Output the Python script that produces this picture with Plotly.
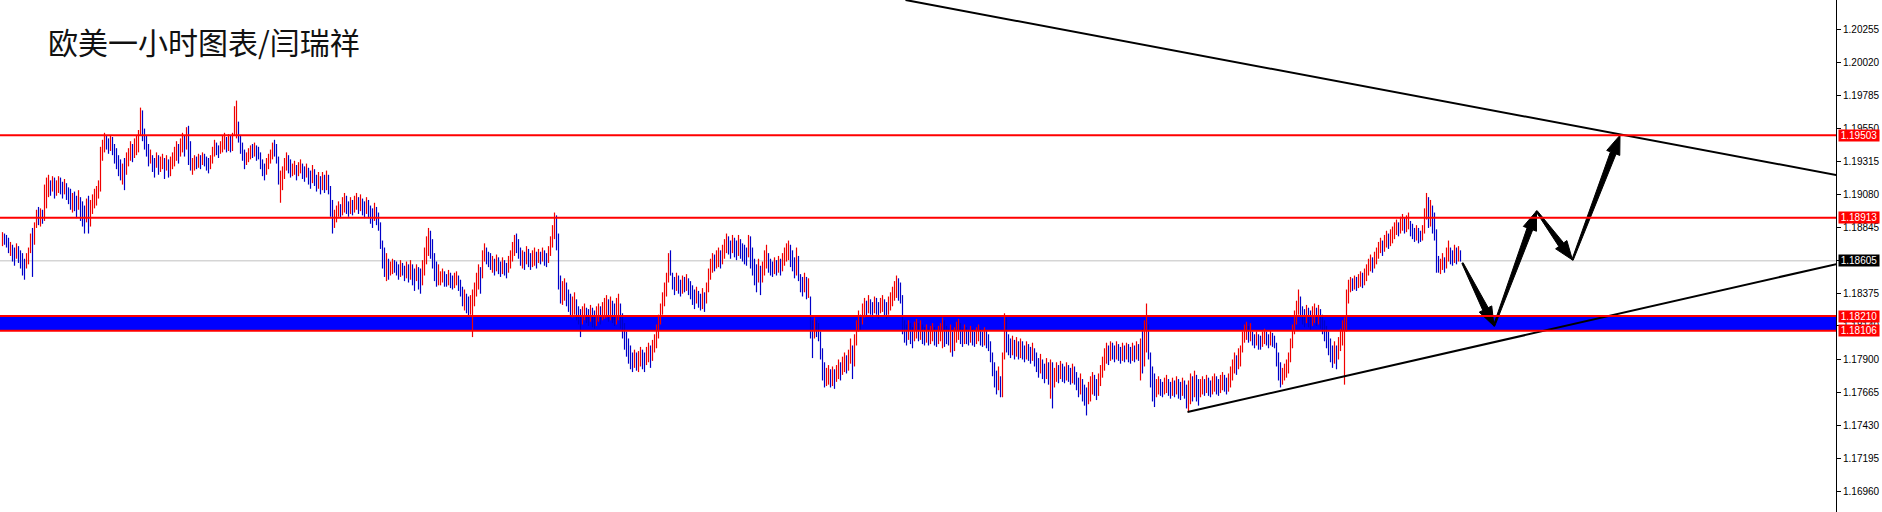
import math
import plotly.graph_objects as go

# ---------------- data (EUR/USD 1H bars) ----------------
highs = [
    1.1881, 1.1880, 1.1879, 1.1877, 1.1874, 1.1872, 1.1870, 1.1873, 1.1871, 1.1868,
    1.1866, 1.1862, 1.1866, 1.1870, 1.1880, 1.1884, 1.1888, 1.1897, 1.1899, 1.1898,
    1.1897, 1.1915, 1.1920, 1.1922, 1.1918, 1.1921, 1.1920, 1.1918, 1.1921, 1.1920,
    1.1917, 1.1919, 1.1916, 1.1913, 1.1912, 1.1909, 1.1910, 1.1907, 1.1911, 1.1906,
    1.1903, 1.1900, 1.1905, 1.1907, 1.1904, 1.1908, 1.1912, 1.1914, 1.1918, 1.1942,
    1.1947, 1.1952, 1.1950, 1.1948, 1.1950, 1.1949, 1.1944, 1.1941, 1.1936, 1.1933,
    1.1930, 1.1934, 1.1938, 1.1941, 1.1946, 1.1944, 1.1948, 1.1950, 1.1954, 1.1970,
    1.1968, 1.1955, 1.1950, 1.1944, 1.1940, 1.1936, 1.1934, 1.1938, 1.1936, 1.1935,
    1.1937, 1.1934, 1.1936, 1.1933, 1.1935, 1.1938, 1.1942, 1.1946, 1.1944, 1.1948,
    1.1952, 1.1950, 1.1956, 1.1957, 1.1946, 1.1934, 1.1936, 1.1935, 1.1937, 1.1936,
    1.1938, 1.1937, 1.1935, 1.1934, 1.1936, 1.1942, 1.1947, 1.1945, 1.1943, 1.1946,
    1.1950, 1.1952, 1.1949, 1.1951, 1.1950, 1.1952, 1.1971, 1.1975, 1.1960, 1.1950,
    1.1945, 1.1940, 1.1938, 1.1941, 1.1943, 1.1944, 1.1945, 1.1943, 1.1942, 1.1938,
    1.1933, 1.1930, 1.1934, 1.1937, 1.1940, 1.1945, 1.1947, 1.1944, 1.1935, 1.1925,
    1.1928, 1.1934, 1.1938, 1.1936, 1.1933, 1.1930, 1.1932, 1.1929, 1.1931, 1.1933,
    1.1930, 1.1928, 1.1930, 1.1927, 1.1925, 1.1929, 1.1926, 1.1922, 1.1924, 1.1921,
    1.1924, 1.1922, 1.1925, 1.1922, 1.1914, 1.1904, 1.1897, 1.1900, 1.1903, 1.1901,
    1.1906, 1.1909, 1.1907, 1.1903, 1.1906, 1.1904, 1.1907, 1.1909, 1.1906, 1.1908,
    1.1905, 1.1903, 1.1906, 1.1904, 1.1900, 1.1898, 1.1902, 1.1899, 1.1895, 1.1888,
    1.1875, 1.1870, 1.1866, 1.1862, 1.1860, 1.1862, 1.1861, 1.1860, 1.1858, 1.1861,
    1.1859, 1.1857, 1.1860, 1.1858, 1.1861, 1.1858, 1.1855, 1.1858, 1.1856, 1.1855,
    1.1861, 1.1870, 1.1878, 1.1884, 1.1882, 1.1876, 1.1866, 1.1860, 1.1858, 1.1853,
    1.1855, 1.1853, 1.1851, 1.1854, 1.1852, 1.1850, 1.1852, 1.1853, 1.1850, 1.1847,
    1.1842, 1.1840, 1.1837, 1.1835, 1.1836, 1.1840, 1.1845, 1.1852, 1.1858, 1.1856,
    1.1868, 1.1873, 1.1870, 1.1867, 1.1866, 1.1864, 1.1862, 1.1865, 1.1863, 1.1860,
    1.1863, 1.1861, 1.1859, 1.1864, 1.1868, 1.1874, 1.1879, 1.1880, 1.1876, 1.1870,
    1.1868, 1.1867, 1.1871, 1.1869, 1.1866, 1.1868, 1.1870, 1.1867, 1.1869, 1.1867,
    1.1870, 1.1868, 1.1866, 1.1871, 1.1878, 1.1886, 1.1895, 1.1893, 1.1880, 1.1850,
    1.1846, 1.1848, 1.1845, 1.1840, 1.1837, 1.1835, 1.1838, 1.1833, 1.1828, 1.1826,
    1.1828, 1.1830, 1.1827, 1.1826, 1.1829, 1.1827, 1.1825, 1.1828, 1.1830, 1.1828,
    1.1831, 1.1834, 1.1836, 1.1833, 1.1835, 1.1832, 1.1830, 1.1834, 1.1837, 1.1830,
    1.1823, 1.1816, 1.1810, 1.1805, 1.1800, 1.1795, 1.1797, 1.1795, 1.1796, 1.1799,
    1.1797, 1.1795, 1.1799, 1.1802, 1.1800, 1.1804, 1.1808, 1.1815, 1.1822, 1.1830,
    1.1838, 1.1845, 1.1852, 1.1866, 1.1868, 1.1852, 1.1849, 1.1852, 1.1850, 1.1847,
    1.1850, 1.1849, 1.1851, 1.1848, 1.1846, 1.1843, 1.1840, 1.1842, 1.1839, 1.1837,
    1.1841, 1.1838, 1.1845, 1.1855, 1.1862, 1.1866, 1.1865, 1.1868, 1.1870, 1.1868,
    1.1872, 1.1876, 1.1880, 1.1878, 1.1875, 1.1879, 1.1877, 1.1875, 1.1879, 1.1876,
    1.1873, 1.1872, 1.1870, 1.1879, 1.1878, 1.1870, 1.1862, 1.1858, 1.1862, 1.1857,
    1.1860, 1.1868, 1.1872, 1.1866, 1.1862, 1.1860, 1.1863, 1.1861, 1.1864, 1.1862,
    1.1866, 1.1870, 1.1873, 1.1875, 1.1872, 1.1868, 1.1863, 1.1870, 1.1864, 1.1851,
    1.1849, 1.1852, 1.1849, 1.1848, 1.1835, 1.1818, 1.1820, 1.1818, 1.1816, 1.1810,
    1.1798, 1.1788, 1.1784, 1.1786, 1.1783, 1.1785, 1.1783, 1.1786, 1.1790, 1.1788,
    1.1792, 1.1795, 1.1793, 1.1797, 1.1805, 1.1800, 1.1808, 1.1818, 1.1825, 1.1822,
    1.1830, 1.1834, 1.1832, 1.1836, 1.1833, 1.1831, 1.1835, 1.1834, 1.1831, 1.1834,
    1.1836, 1.1833, 1.1831, 1.1835, 1.1838, 1.1842, 1.1846, 1.1850, 1.1848, 1.1845,
    1.1836, 1.1818, 1.1815, 1.1818, 1.1816, 1.1813, 1.1817, 1.1819, 1.1816, 1.1818,
    1.1815, 1.1813, 1.1815, 1.1812, 1.1814, 1.1816, 1.1813, 1.1811, 1.1814, 1.1816,
    1.1820, 1.1818, 1.1814, 1.1812, 1.1815, 1.1810, 1.1813, 1.1817, 1.1819, 1.1816,
    1.1812, 1.1815, 1.1813, 1.1811, 1.1814, 1.1812, 1.1810, 1.1813, 1.1815, 1.1812,
    1.1810, 1.1813, 1.1811, 1.1808, 1.1803, 1.1795, 1.1788, 1.1782, 1.1785, 1.1778,
    1.1795, 1.1823, 1.1820, 1.1808, 1.1805, 1.1807, 1.1804, 1.1806, 1.1803, 1.1805,
    1.1803, 1.1800, 1.1803, 1.1801, 1.1799, 1.1802, 1.1798, 1.1795, 1.1791, 1.1794,
    1.1790, 1.1787, 1.1791, 1.1788, 1.1790, 1.1788, 1.1784, 1.1788, 1.1786, 1.1789,
    1.1787, 1.1785, 1.1788, 1.1786, 1.1784, 1.1787, 1.1785, 1.1781, 1.1777, 1.1780,
    1.1776, 1.1772, 1.1770, 1.1774, 1.1778, 1.1781, 1.1779, 1.1776, 1.1780, 1.1786,
    1.1792, 1.1798, 1.1802, 1.1800, 1.1803, 1.1802, 1.1800, 1.1803, 1.1801, 1.1799,
    1.1802, 1.1800, 1.1802, 1.1801, 1.1799, 1.1802, 1.1800, 1.1803, 1.1801, 1.1805,
    1.1812, 1.1818, 1.1830, 1.1815, 1.1795, 1.1785, 1.1780, 1.1776, 1.1778, 1.1776,
    1.1774, 1.1777, 1.1779, 1.1776, 1.1774, 1.1777, 1.1775, 1.1778, 1.1776, 1.1774,
    1.1777, 1.1775, 1.1772, 1.1775, 1.1780, 1.1778, 1.1782, 1.1779, 1.1776, 1.1776,
    1.1778, 1.1776, 1.1779, 1.1777, 1.1775, 1.1778, 1.1780, 1.1778, 1.1776, 1.1779,
    1.1781, 1.1779, 1.1777, 1.1780, 1.1785, 1.1790, 1.1795, 1.1793, 1.1798, 1.1800,
    1.1810, 1.1815, 1.1817, 1.1814, 1.1816, 1.1810, 1.1808, 1.1810, 1.1808, 1.1807,
    1.1810, 1.1812, 1.1810, 1.1808, 1.1811, 1.1809, 1.1807, 1.1802, 1.1795, 1.1788,
    1.1784, 1.1787, 1.1790, 1.1795, 1.1805, 1.1815, 1.1825, 1.1832, 1.1840, 1.1835,
    1.1828, 1.1826, 1.1829, 1.1827, 1.1825, 1.1828, 1.1830, 1.1827, 1.1829, 1.1826,
    1.1822, 1.1818, 1.1814, 1.1810, 1.1805, 1.1800, 1.1803, 1.1800, 1.1806, 1.1812,
    1.1818, 1.1820, 1.1840, 1.1847, 1.1849, 1.1848, 1.1850, 1.1849, 1.1851, 1.1853,
    1.1852, 1.1855, 1.1858, 1.1862, 1.1865, 1.1863, 1.1867, 1.1870, 1.1874, 1.1877,
    1.1875, 1.1879, 1.1882, 1.1880, 1.1883, 1.1885, 1.1888, 1.1890, 1.1888, 1.1892,
    1.1894, 1.1891, 1.1893, 1.1895, 1.1889, 1.1887, 1.1884, 1.1886, 1.1884, 1.1882,
    1.1886, 1.1898, 1.1909, 1.1906, 1.1904, 1.1900, 1.1895, 1.1883, 1.1864, 1.1862,
    1.1866, 1.1863, 1.1870, 1.1875, 1.1870, 1.1868, 1.1872, 1.1870, 1.1871, 1.1868,
]

lows = [
    1.1871, 1.1872, 1.1870, 1.1866, 1.1864, 1.1860, 1.1857, 1.1862, 1.1859, 1.1855,
    1.1850, 1.1847, 1.1855, 1.1858, 1.1866, 1.1849, 1.1872, 1.1884, 1.1886, 1.1885,
    1.1887, 1.1889, 1.1898, 1.1906, 1.1907, 1.1910, 1.1905, 1.1907, 1.1909, 1.1908,
    1.1905, 1.1908, 1.1904, 1.1901, 1.1897, 1.1895, 1.1896, 1.1891, 1.1897, 1.1889,
    1.1885, 1.1880, 1.1888, 1.1880, 1.1885, 1.1894, 1.1898, 1.1900, 1.1905, 1.1910,
    1.1932, 1.1938, 1.1940, 1.1937, 1.1939, 1.1936, 1.1930, 1.1926, 1.1921, 1.1918,
    1.1915, 1.1911, 1.1922, 1.1928, 1.1932, 1.1931, 1.1934, 1.1936, 1.1938, 1.1950,
    1.1946, 1.1940, 1.1935, 1.1928, 1.1930, 1.1924, 1.1920, 1.1927, 1.1922, 1.1924,
    1.1926, 1.1919, 1.1925, 1.1920, 1.1921, 1.1926, 1.1928, 1.1932, 1.1930, 1.1935,
    1.1938, 1.1935, 1.1940, 1.1929, 1.1925, 1.1922, 1.1925, 1.1926, 1.1927, 1.1926,
    1.1929, 1.1928, 1.1925, 1.1923, 1.1926, 1.1930, 1.1935, 1.1936, 1.1934, 1.1937,
    1.1938, 1.1940, 1.1938, 1.1939, 1.1938, 1.1939, 1.1950, 1.1948, 1.1945, 1.1937,
    1.1932, 1.1926, 1.1929, 1.1931, 1.1933, 1.1934, 1.1935, 1.1932, 1.1933, 1.1926,
    1.1921, 1.1918, 1.1922, 1.1926, 1.1930, 1.1933, 1.1935, 1.1930, 1.1915, 1.1902,
    1.1911, 1.1919, 1.1925, 1.1923, 1.1920, 1.1921, 1.1922, 1.1918, 1.1921, 1.1923,
    1.1919, 1.1917, 1.1920, 1.1915, 1.1912, 1.1916, 1.1914, 1.1910, 1.1912, 1.1908,
    1.1911, 1.1909, 1.1911, 1.1908, 1.1892, 1.1880, 1.1884, 1.1888, 1.1892, 1.1891,
    1.1893, 1.1895, 1.1894, 1.1892, 1.1894, 1.1893, 1.1895, 1.1897, 1.1894, 1.1896,
    1.1893, 1.1891, 1.1894, 1.1891, 1.1887, 1.1884, 1.1889, 1.1886, 1.1882, 1.1869,
    1.1855, 1.1849, 1.1846, 1.1847, 1.1850, 1.1851, 1.1852, 1.1850, 1.1847, 1.1849,
    1.1850, 1.1846, 1.1848, 1.1845, 1.1847, 1.1843, 1.1839, 1.1846, 1.1840, 1.1837,
    1.1843, 1.1850, 1.1858, 1.1864, 1.1862, 1.1855, 1.1846, 1.1842, 1.1843, 1.1843,
    1.1845, 1.1842, 1.1842, 1.1843, 1.1841, 1.1840, 1.1841, 1.1843, 1.1839, 1.1835,
    1.1828, 1.1825, 1.1823, 1.1820, 1.1822, 1.1806, 1.1828, 1.1835, 1.1840, 1.1837,
    1.1848, 1.1860, 1.1858, 1.1856, 1.1854, 1.1852, 1.1850, 1.1853, 1.1851, 1.1849,
    1.1851, 1.1850, 1.1848, 1.1852, 1.1855, 1.1860, 1.1864, 1.1866, 1.1862, 1.1857,
    1.1855, 1.1854, 1.1858, 1.1856, 1.1854, 1.1856, 1.1857, 1.1855, 1.1859, 1.1858,
    1.1860, 1.1857, 1.1856, 1.1859, 1.1864, 1.1870, 1.1876, 1.1868, 1.1840, 1.1830,
    1.1829, 1.1832, 1.1828, 1.1824, 1.1821, 1.1820, 1.1822, 1.1818, 1.1815, 1.1806,
    1.1815, 1.1818, 1.1816, 1.1814, 1.1817, 1.1813, 1.1812, 1.1814, 1.1817, 1.1815,
    1.1818, 1.1819, 1.1820, 1.1817, 1.1818, 1.1816, 1.1814, 1.1815, 1.1818, 1.1812,
    1.1805, 1.1797, 1.1792, 1.1787, 1.1783, 1.1781, 1.1784, 1.1782, 1.1781, 1.1785,
    1.1783, 1.1781, 1.1786, 1.1788, 1.1784, 1.1789, 1.1795, 1.1798, 1.1805, 1.1815,
    1.1822, 1.1828, 1.1835, 1.1845, 1.1850, 1.1840, 1.1836, 1.1839, 1.1837, 1.1835,
    1.1837, 1.1838, 1.1839, 1.1836, 1.1833, 1.1829, 1.1826, 1.1830, 1.1827, 1.1825,
    1.1826, 1.1824, 1.1830, 1.1838, 1.1847, 1.1852, 1.1853, 1.1855, 1.1856, 1.1855,
    1.1858, 1.1862, 1.1866, 1.1865, 1.1862, 1.1866, 1.1863, 1.1861, 1.1864, 1.1862,
    1.1860, 1.1858, 1.1857, 1.1863, 1.1855, 1.1850, 1.1843, 1.1838, 1.1845, 1.1836,
    1.1845, 1.1850, 1.1855, 1.1852, 1.1850, 1.1849, 1.1851, 1.1850, 1.1852, 1.1850,
    1.1853, 1.1857, 1.1860, 1.1861, 1.1856, 1.1853, 1.1848, 1.1850, 1.1846, 1.1838,
    1.1835, 1.1838, 1.1833, 1.1834, 1.1805, 1.1791, 1.1805, 1.1806, 1.1803, 1.1790,
    1.1775, 1.1770, 1.1771, 1.1772, 1.1770, 1.1771, 1.1769, 1.1774, 1.1776, 1.1775,
    1.1779, 1.1781, 1.1780, 1.1782, 1.1787, 1.1776, 1.1785, 1.1800, 1.1810, 1.1811,
    1.1815, 1.1820, 1.1821, 1.1823, 1.1822, 1.1820, 1.1823, 1.1822, 1.1819, 1.1823,
    1.1824, 1.1821, 1.1819, 1.1822, 1.1825, 1.1828, 1.1832, 1.1834, 1.1832, 1.1830,
    1.1808, 1.1802, 1.1800, 1.1804, 1.1801, 1.1798, 1.1803, 1.1805, 1.1803, 1.1804,
    1.1801, 1.1800, 1.1802, 1.1800, 1.1801, 1.1803, 1.1800, 1.1799, 1.1801, 1.1803,
    1.1798, 1.1799, 1.1801, 1.1800, 1.1795, 1.1792, 1.1796, 1.1802, 1.1804, 1.1801,
    1.1799, 1.1801, 1.1801, 1.1800, 1.1802, 1.1800, 1.1799, 1.1801, 1.1803, 1.1800,
    1.1799, 1.1800, 1.1798, 1.1796, 1.1788, 1.1778, 1.1770, 1.1765, 1.1768, 1.1763,
    1.1763, 1.1790, 1.1795, 1.1793, 1.1791, 1.1793, 1.1790, 1.1792, 1.1790, 1.1791,
    1.1790, 1.1788, 1.1790, 1.1789, 1.1787, 1.1789, 1.1785, 1.1781, 1.1777, 1.1780,
    1.1776, 1.1773, 1.1776, 1.1772, 1.1762, 1.1755, 1.1770, 1.1774, 1.1773, 1.1776,
    1.1774, 1.1773, 1.1775, 1.1774, 1.1772, 1.1773, 1.1772, 1.1768, 1.1763, 1.1765,
    1.1760, 1.1757, 1.1750, 1.1758, 1.1760, 1.1765, 1.1764, 1.1761, 1.1764, 1.1771,
    1.1777, 1.1782, 1.1787, 1.1786, 1.1789, 1.1790, 1.1788, 1.1790, 1.1789, 1.1787,
    1.1789, 1.1788, 1.1790, 1.1788, 1.1787, 1.1789, 1.1788, 1.1790, 1.1789, 1.1775,
    1.1780, 1.1785, 1.1795, 1.1790, 1.1770, 1.1760, 1.1756, 1.1763, 1.1765, 1.1764,
    1.1763, 1.1765, 1.1766, 1.1764, 1.1762, 1.1764, 1.1763, 1.1765, 1.1762, 1.1761,
    1.1764, 1.1762, 1.1755, 1.1753, 1.1758, 1.1760, 1.1763, 1.1760, 1.1757, 1.1763,
    1.1765, 1.1764, 1.1766, 1.1764, 1.1763, 1.1765, 1.1767, 1.1765, 1.1764, 1.1766,
    1.1768, 1.1767, 1.1765, 1.1767, 1.1770, 1.1775, 1.1780, 1.1779, 1.1783, 1.1785,
    1.1795, 1.1802, 1.1804, 1.1802, 1.1803, 1.1800, 1.1798, 1.1800, 1.1797, 1.1797,
    1.1799, 1.1801, 1.1800, 1.1798, 1.1800, 1.1799, 1.1798, 1.1785, 1.1775, 1.1770,
    1.1772, 1.1775, 1.1777, 1.1780, 1.1788, 1.1798, 1.1808, 1.1815, 1.1822, 1.1820,
    1.1815, 1.1813, 1.1816, 1.1813, 1.1811, 1.1814, 1.1816, 1.1814, 1.1815, 1.1812,
    1.1808, 1.1803, 1.1798, 1.1793, 1.1788, 1.1784, 1.1787, 1.1783, 1.1790, 1.1796,
    1.1800, 1.1772, 1.1810, 1.1830, 1.1838, 1.1839, 1.1840, 1.1839, 1.1841, 1.1842,
    1.1841, 1.1843, 1.1846, 1.1850, 1.1853, 1.1852, 1.1855, 1.1858, 1.1862, 1.1866,
    1.1864, 1.1867, 1.1870, 1.1869, 1.1871, 1.1873, 1.1876, 1.1879, 1.1878, 1.1880,
    1.1882, 1.1880, 1.1881, 1.1883, 1.1878, 1.1876, 1.1874, 1.1875, 1.1873, 1.1874,
    1.1875, 1.1880, 1.1890, 1.1884, 1.1885, 1.1880, 1.1875, 1.1852, 1.1852, 1.1851,
    1.1854, 1.1852, 1.1855, 1.1860, 1.1858, 1.1857, 1.1859, 1.1858, 1.1860, 1.1860,
]

# bar direction: u = up bar (red), d = down bar (blue)
bar_dir = (
    "uddduddudd" "dduuuduudu" "duuududuud" "duddduddud" "dduduuuuuu"
    "uudduddddd" "uduuuduuuu" "dddduddudu" "ududuuuudu" "ududduudud"
    "uddduuuddu" "uududuuudd" "dduuududdd" "dduuuudddu" "uuudduuduu"
    "ddudduddud" "ududdduuud" "uudduduudu" "dduddduddd" "dduduudddu"
    "ddududdudd" "uuuudddduu" "uddudduudd" "dudduuuuud" "uudddududd"
    "udduuuuddd" "ududduudud" "udduuuuddd" "uuddduuddd" "uuddudduud"
    "uuududduud" "dddddduduu" "dduuduuuuu" "uuuudddudd" "ududdddudd"
    "uduuuuduud" "uuudduddud" "ddduddddud" "uuudddudud" "uuuudddudd"
    "dududduddd" "dduududuud" "uuduuduuud" "uududduddu" "udduuuuudd"
    "dddudduudu" "dduduudduu" "uddduduuud" "duddudduud" "duddddddud"
    "uudddududu" "dduddudddu" "ddududuudu" "dduddudddu" "ddduuudduu"
    "uuududdudd" "ududdududu" "duudddduud" "duuddududd" "udduududdu"
    "ududduuddu" "udduuuuduu" "uuududdudd" "uudduddddd" "uuuuuuuuud"
    "ddudduudud" "dddddduduu" "uuuuududuu" "duuuuduuuu" "duuduuuudu"
    "uduudddudd" "uuududdddu" "uduuddudud"
)

# y-axis ticks
tick_vals = [1.16960, 1.17195, 1.17430, 1.17665, 1.17900, 1.18140, 1.18375, 1.18610,
             1.18845, 1.19080, 1.19315, 1.19550, 1.19785, 1.20020, 1.20255]
tick_text = [f"{v:.5f}" for v in tick_vals]

# horizontal levels
red_levels = [1.19503, 1.18913]
zone_levels = [1.18106, 1.18210]
bid_price = 1.18605

# trend lines (bar index, price)
resist_x = [451.5, 917]
resist_y = [1.20469, 1.19218]
support_x = [592.5, 917]
support_y = [1.17524, 1.18582]

# projected path drawn with arrows (bar index, price)
path_x = [730, 745.75, 767, 785, 808.75]
path_y = [1.18589, 1.18139, 1.18961, 1.18611, 1.19503]

title_text = "欧美一小时图表/闫瑞祥"

# ---------------- layout constants ----------------
W, H = 1882, 512
M_R = 46
X_RANGE = [-1.25, 916.75]
Y_RANGE = [1.16810, 1.20469]
plot_w = W - M_R
plot_h = H
px_x = plot_w / (X_RANGE[1] - X_RANGE[0])
px_y = plot_h / (Y_RANGE[1] - Y_RANGE[0])

n = min(len(highs), len(lows), len(bar_dir))
xs = list(range(n))
opens = [lows[i] if bar_dir[i] == "u" else highs[i] for i in range(n)]
closes = [highs[i] if bar_dir[i] == "u" else lows[i] for i in range(n)]

fig = go.Figure()
fig.add_trace(go.Ohlc(
    x=xs, open=opens, high=highs[:n], low=lows[:n], close=closes,
    increasing=dict(line=dict(color="#f00000", width=1.2)),
    decreasing=dict(line=dict(color="#0000c8", width=1.2)),
    tickwidth=0, hoverinfo="skip", showlegend=False,
))

# trend lines
for tx, ty in ((resist_x, resist_y), (support_x, support_y)):
    fig.add_trace(go.Scatter(x=tx, y=ty, mode="lines",
                             line=dict(color="black", width=2),
                             hoverinfo="skip", showlegend=False))


def wedge(x0, y0, x1, y1, ws=6.0, wh=14.0, hl=19.0):
    X0, Y0 = x0 * px_x, y0 * px_y
    X1, Y1 = x1 * px_x, y1 * px_y
    dx, dy = X1 - X0, Y1 - Y0
    L = math.hypot(dx, dy)
    ux, uy = dx / L, dy / L
    nx, ny = -uy, ux
    hx, hy = X1 - ux * hl, Y1 - uy * hl
    pts = [
        (X0 + nx * 0.7, Y0 + ny * 0.7),
        (hx + nx * ws / 2, hy + ny * ws / 2),
        (hx + nx * wh / 2, hy + ny * wh / 2),
        (X1, Y1),
        (hx - nx * wh / 2, hy - ny * wh / 2),
        (hx - nx * ws / 2, hy - ny * ws / 2),
        (X0 - nx * 0.7, Y0 - ny * 0.7),
    ]
    pts.append(pts[0])
    return [p[0] / px_x for p in pts], [p[1] / px_y for p in pts]


for k in range(len(path_x) - 1):
    wx, wy = wedge(path_x[k], path_y[k], path_x[k + 1], path_y[k + 1])
    fig.add_trace(go.Scatter(x=wx, y=wy, mode="lines", fill="toself",
                             fillcolor="black", line=dict(color="black", width=1),
                             hoverinfo="skip", showlegend=False))

shapes = []
shapes.append(dict(type="rect", xref="paper", yref="y", x0=0, x1=1,
                   y0=zone_levels[0], y1=zone_levels[1],
                   fillcolor="#0000ff", line=dict(width=0), layer="below"))
shapes.append(dict(type="line", xref="paper", yref="y", x0=0, x1=1,
                   y0=bid_price, y1=bid_price,
                   line=dict(color="#c0c0c0", width=1), layer="below"))
for lv in red_levels + zone_levels:
    shapes.append(dict(type="line", xref="paper", yref="y", x0=0, x1=1,
                       y0=lv, y1=lv, line=dict(color="#ff0000", width=2),
                       layer="above"))

annotations = []
for lv in red_levels + zone_levels:
    annotations.append(dict(
        x=1, xref="paper", y=lv, yref="y", xanchor="left", yanchor="middle",
        xshift=2, text=f"{lv:.5f}", showarrow=False, bgcolor="#ff0000",
        font=dict(family="Liberation Sans", size=10, color="white"),
        width=40, height=11, borderpad=0))
annotations.append(dict(
    x=1, xref="paper", y=bid_price, yref="y", xanchor="left", yanchor="middle",
    xshift=2, text=f"{bid_price:.5f}", showarrow=False, bgcolor="black",
    font=dict(family="Liberation Sans", size=10, color="white"),
    width=40, height=11, borderpad=0))
annotations.append(dict(
    x=46 / plot_w, xref="paper", y=1 - 41 / plot_h, yref="paper",
    xanchor="left", yanchor="middle", text=title_text, showarrow=False,
    font=dict(family="Noto Sans CJK SC", size=30, color="#111111")))

fig.update_layout(
    width=W, height=H,
    margin=dict(l=0, r=M_R, t=0, b=0, pad=0),
    paper_bgcolor="white", plot_bgcolor="white",
    showlegend=False,
    shapes=shapes, annotations=annotations,
    xaxis=dict(range=X_RANGE, visible=False, showgrid=False, zeroline=False,
               rangeslider=dict(visible=False), fixedrange=True),
    yaxis=dict(range=Y_RANGE, side="right", tickvals=tick_vals, ticktext=tick_text,
               ticks="outside", ticklen=4, tickcolor="black", tickwidth=1,
               showline=True, linecolor="black", linewidth=1,
               showgrid=False, zeroline=False, fixedrange=True,
               tickfont=dict(family="Liberation Sans", size=10, color="black")),
)

fig.write_html(
    "out.html",
    config={"displayModeBar": False},
    post_script="document.documentElement.style.margin='0';"
                "document.body.style.margin='0';document.body.style.padding='0';"
                "document.body.style.overflow='hidden';",
)
